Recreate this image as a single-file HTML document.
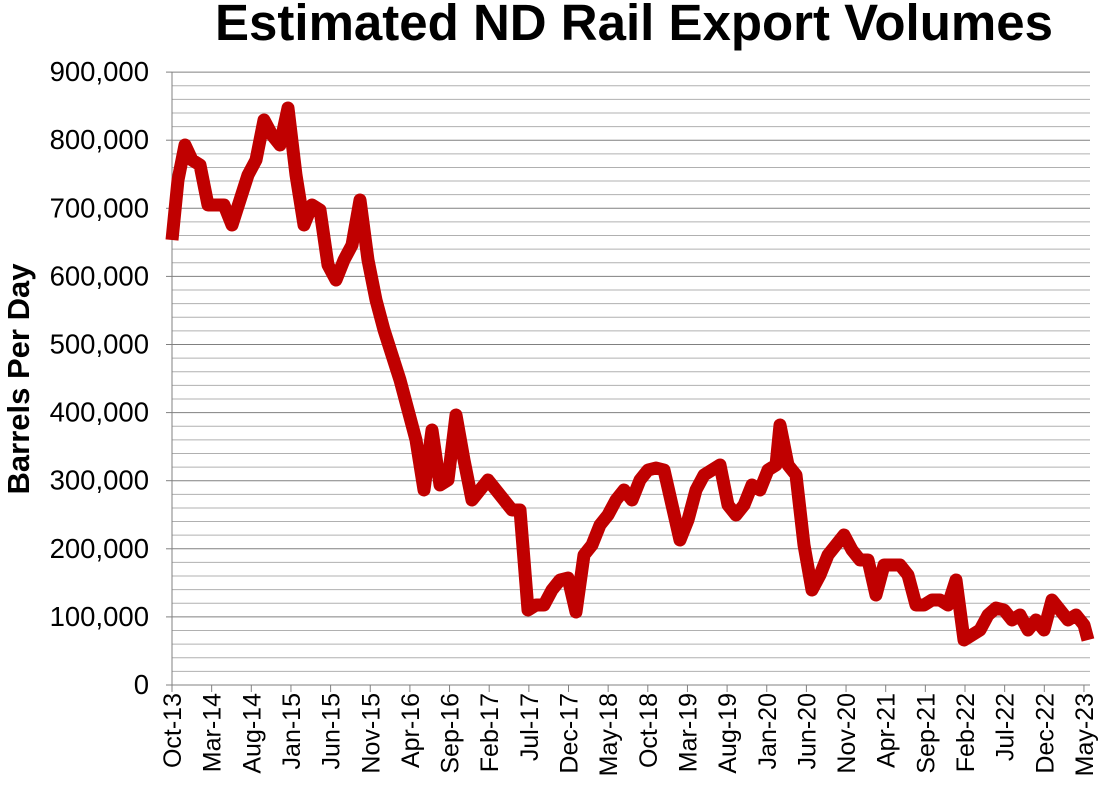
<!DOCTYPE html><html><head><style>body{margin:0;background:#fff}</style></head><body>
<svg width="1109" height="804" xmlns="http://www.w3.org/2000/svg" font-family="Liberation Sans, Arial, sans-serif">
<text x="634" y="40" font-size="51" font-weight="bold" text-anchor="middle">Estimated ND Rail Export Volumes</text>
<text transform="translate(29,379) rotate(-90)" font-size="31" font-weight="bold" text-anchor="middle">Barrels Per Day</text>
<script>
const svg=document.querySelector('svg');const NS='http://www.w3.org/2000/svg';
function el(t,a,txt){const e=document.createElementNS(NS,t);for(const k in a)e.setAttribute(k,a[k]);if(txt)e.textContent=txt;svg.appendChild(e);return e;}
const y0=685,ppk=0.681;
for(let v=20;v<=900;v+=20){const y=y0-v*ppk;el('line',{x1:172,x2:1090,y1:y,y2:y,stroke:v%100?'#b0b0b0':'#808080','stroke-width':1});}
el('line',{x1:172,x2:172,y1:72,y2:685,stroke:'#808080'});
el('line',{x1:166,x2:1090,y1:685,y2:685,stroke:'#808080'});
for(let v=0;v<=900;v+=100){const y=y0-v*ppk;el('line',{x1:166,x2:172,y1:y,y2:y,stroke:'#808080'});
el('text',{x:149,y:y+9,'font-size':27.5,'text-anchor':'end'},v?v+',000':'0');}
const labs=['Oct-13','Mar-14','Aug-14','Jan-15','Jun-15','Nov-15','Apr-16','Sep-16','Feb-17','Jul-17','Dec-17','May-18','Oct-18','Mar-19','Aug-19','Jan-20','Jun-20','Nov-20','Apr-21','Sep-21','Feb-22','Jul-22','Dec-22','May-23'];
labs.forEach((l,i)=>{const x=172+i*39.65;el('line',{x1:x,x2:x,y1:685,y2:692,stroke:'#808080'});
el('text',{transform:`translate(${x+9},693) rotate(-90)`,'font-size':25,'text-anchor':'end'},l);});
const p="172,240 178,180 185,145 192,160 200,165 208,205 216,205 224,205 232,225 240,200 248,175 256,160 264,120 272,135 280,145 288,108 296,175 304,225 312,205 320,210 328,265 336,280 344,260 352,245 360,200 368,260 376,300 384,330 392,355 400,380 408,410 416,440 424,490 432,430 440,485 448,480 456,415 464,460 472,500 480,490 488,480 496,490 504,500 512,510 520,510 528,610 536,605 544,605 552,590 560,580 568,578 576,612 584,555 592,545 600,525 608,515 616,500 624,490 632,500 640,480 648,470 656,468 664,470 672,505 680,540 688,520 696,490 704,475 712,470 720,465 728,505 736,515 744,505 752,485 760,490 768,470 776,465 780,425 788,465 796,475 804,545 812,590 820,575 828,555 836,545 844,535 852,550 860,560 868,560 876,595 884,565 892,565 900,565 908,575 916,605 924,605 932,600 940,600 948,605 956,580 964,640 972,635 980,630 988,615 996,608 1004,610 1012,620 1020,615 1028,630 1036,620 1044,630 1052,600 1060,610 1068,620 1076,615 1084,625 1088,640";
el('polyline',{points:p,fill:'none',stroke:'#c00000','stroke-width':13,'stroke-linejoin':'round'});
</script>
</svg></body></html>
